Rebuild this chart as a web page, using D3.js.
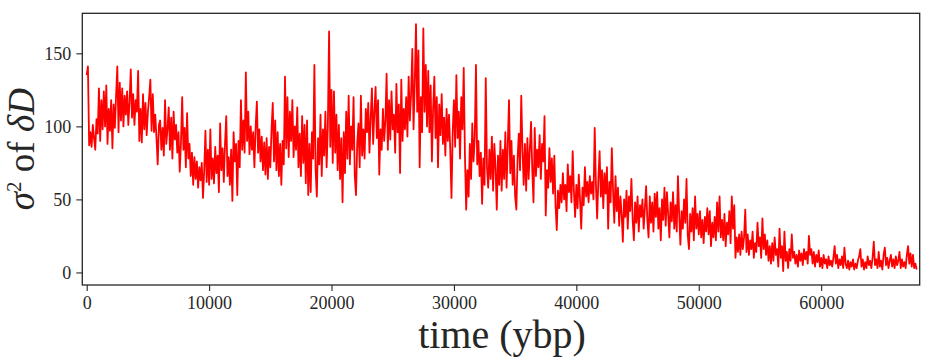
<!DOCTYPE html>
<html>
<head>
<meta charset="utf-8">
<script src="https://cdn.jsdelivr.net/npm/d3@7"></script>
<style>
  html, body { margin: 0; padding: 0; background: #fff; }
  svg { display: block; }
</style>
</head>
<body>
<svg id="chart" width="932" height="364"></svg>
<script>
// ---- data ----
const sampleStepYears = 100;          // spacing of the samples along the time axis
const varianceDD = [
  // 0 - 1900
  135,141,87,96,86,101,92,84,105,95,126,90,118,98,124,100,128,88,112,97,
  // 2000 - 3900
  118,85,115,99,121,141,96,130,104,126,100,121,108,124,101,117,139,106,122,101,
  // 4000 - 5900
  118,110,138,90,112,89,122,98,116,94,110,120,132,97,122,96,108,92,74,101,
  // 6000 - 7900
  104,84,99,80,118,88,98,113,84,106,78,110,91,101,82,96,69,89,120,84,
  // 8000 - 9900
  99,72,109,78,88,66,82,60,79,64,76,58,72,63,75,51,70,97,62,84,
  // 10000 - 11900
  60,98,64,78,61,86,68,80,55,102,70,85,62,88,107,66,79,60,84,49,
  // 12000 - 13900
  96,76,88,53,90,72,118,84,104,82,137,90,110,81,100,84,96,72,99,117,
  // 14000 - 15900
  82,98,76,93,70,89,67,92,64,86,72,98,116,76,104,70,96,66,88,60,
  // 16000 - 17900
  90,74,134,85,120,79,110,90,118,79,100,84,113,72,95,66,107,75,101,61,
  // 18000 - 19900
  104,53,88,55,96,78,142,70,52,92,74,108,66,98,80,110,72,100,165,86,
  // 20000 - 21900
  125,75,124,82,108,70,101,64,92,48,96,68,110,78,121,74,100,84,120,66,
  // 22000 - 23900
  53,88,102,72,121,80,98,78,112,96,116,82,106,126,88,110,127,92,118,67,
  // 24000 - 25900
  98,84,112,90,104,136,84,118,91,124,98,108,82,129,96,115,68,132,90,112,
  // 26000 - 27900
  98,120,93,134,104,122,153,98,130,170,110,152,72,120,96,167,110,142,100,138,
  // 28000 - 29900
  96,128,76,112,134,92,120,72,115,94,122,88,106,80,112,90,108,84,51,96,
  // 30000 - 31900
  118,86,135,92,110,78,120,98,140,80,43,70,52,88,64,102,76,92,142,74,
  // 32000 - 33900
  90,66,82,47,78,60,133,72,58,84,64,93,56,88,72,43,80,60,90,56,
  // 34000 - 35900
  84,64,96,58,88,118,68,90,60,80,52,43,78,95,70,121,84,60,88,56,
  // 36000 - 37900
  92,64,84,103,70,48,99,66,84,72,94,64,88,76,107,39,70,58,85,62,
  // 38000 - 39900
  78,54,80,46,29,56,44,60,48,68,50,60,42,74,55,66,48,83,56,38,
  // 40000 - 41900
  60,44,67,50,30,58,46,72,52,62,48,66,54,62,50,99,60,37,64,83,
  // 42000 - 43900
  52,70,44,68,54,72,30,62,48,85,56,34,66,42,58,32,52,40,21,50,
  // 44000 - 45900
  38,56,30,52,42,64,36,22,48,34,52,28,46,38,50,30,44,59,36,24,
  // 46000 - 47900
  52,34,48,28,54,38,55,30,44,22,50,36,58,32,55,40,24,48,35,55,
  // 48000 - 49900
  30,46,28,66,40,19,42,30,50,34,64,26,16,40,28,44,22,52,30,40,
  // 50000 - 51900
  26,42,24,36,20,38,28,44,26,42,18,34,24,38,22,48,28,52,24,36,
  // 52000 - 53900
  22,40,18,34,26,42,20,52,30,46,10,24,14,26,12,28,16,24,43,14,
  // 54000 - 55900
  26,12,22,16,28,10,20,14,34,18,24,10,37,16,26,12,22,8,18,6,
  // 56000 - 57900
  20,8,24,12,16,4,30,10,18,1,28,8,14,3,16,8,26,10,14,6,
  // 58000 - 59900
  12,4,15,8,13,5,16,9,14,6,25,12,16,6,14,4,12,7,15,4,
  // 60000 - 61900
  10,3,12,6,9,3,11,5,8,4,10,18,6,12,3,9,5,11,3,17,
  // 62000 - 63900
  6,3,8,2,7,4,9,2,6,3,8,11,16,4,9,2,7,3,11,5,
  // 64000 - 65900
  8,3,10,21,5,9,3,14,4,8,2,12,17,5,10,3,8,12,4,9,
  // 66000 - 67800
  3,11,5,8,14,3,9,4,7,3,12,18,6,13,4,12,3,6,2
];
const xTicks = [0, 10000, 20000, 30000, 40000, 50000, 60000];
const yTicks = [0, 50, 100, 150];
const xDomain = [-360, 68050];
const yDomain = [-8.6, 177.4];
const xLabel = "time (ybp)";

const points = varianceDD.map((v, i) => ({ t: i * sampleStepYears, v }));

// ---- layout ----
const svg = d3.select("#chart");
const plot = { left: 82.3, top: 13.3, right: 919.7, bottom: 285 };
const serif = "'Liberation Serif', 'DejaVu Serif', serif";
const ink = "#262626";

const x = d3.scaleLinear().domain(xDomain).range([plot.left, plot.right]);
const y = d3.scaleLinear().domain(yDomain).range([plot.bottom, plot.top]);

// clip
svg.append("defs").append("clipPath").attr("id", "clip")
  .append("rect")
  .attr("x", plot.left).attr("y", plot.top)
  .attr("width", plot.right - plot.left).attr("height", plot.bottom - plot.top);

// line
const line = d3.line().x(d => x(d.t)).y(d => y(d.v));
svg.append("path")
  .datum(points)
  .attr("clip-path", "url(#clip)")
  .attr("fill", "none")
  .attr("stroke", "#ff0000")
  .attr("stroke-width", 1.8)
  .attr("stroke-linejoin", "round")
  .attr("d", line);

// axes
const xAxis = d3.axisBottom(x).tickValues(xTicks).tickFormat(d3.format("d")).tickSize(6).tickPadding(5);
const yAxis = d3.axisLeft(y).tickValues(yTicks).tickFormat(d3.format("d")).tickSize(6).tickPadding(5);

const gx = svg.append("g").attr("transform", `translate(0,${plot.bottom})`).call(xAxis);
const gy = svg.append("g").attr("transform", `translate(${plot.left},0)`).call(yAxis);
[gx, gy].forEach(g => {
  g.select(".domain").remove();
  g.selectAll(".tick line").attr("stroke", ink).attr("stroke-width", 1.1);
  g.selectAll(".tick text").attr("fill", ink)
    .style("font-family", serif).style("font-size", "18px");
});

// frame
svg.append("rect")
  .attr("x", plot.left).attr("y", plot.top)
  .attr("width", plot.right - plot.left).attr("height", plot.bottom - plot.top)
  .attr("fill", "none").attr("stroke", ink).attr("stroke-width", 1.3);

// x label
svg.append("text")
  .attr("x", (plot.left + plot.right) / 2 + 1)
  .attr("y", 348)
  .attr("text-anchor", "middle")
  .attr("fill", ink)
  .style("font-family", serif)
  .style("font-size", "40px")
  .text(xLabel);

// y label: σ² of δD
const yl = svg.append("text")
  .attr("transform", `translate(34,${(plot.top + plot.bottom) / 2}) rotate(-90)`)
  .attr("text-anchor", "middle")
  .attr("fill", ink)
  .style("font-family", serif)
  .style("font-size", "37px");
yl.append("tspan").style("font-style", "italic").text("σ");
yl.append("tspan").attr("dy", -13).style("font-size", "21px").text("2");
yl.append("tspan").attr("dy", 13).text(" of ");
yl.append("tspan").style("font-style", "italic").text("δD");
</script>
</body>
</html>
